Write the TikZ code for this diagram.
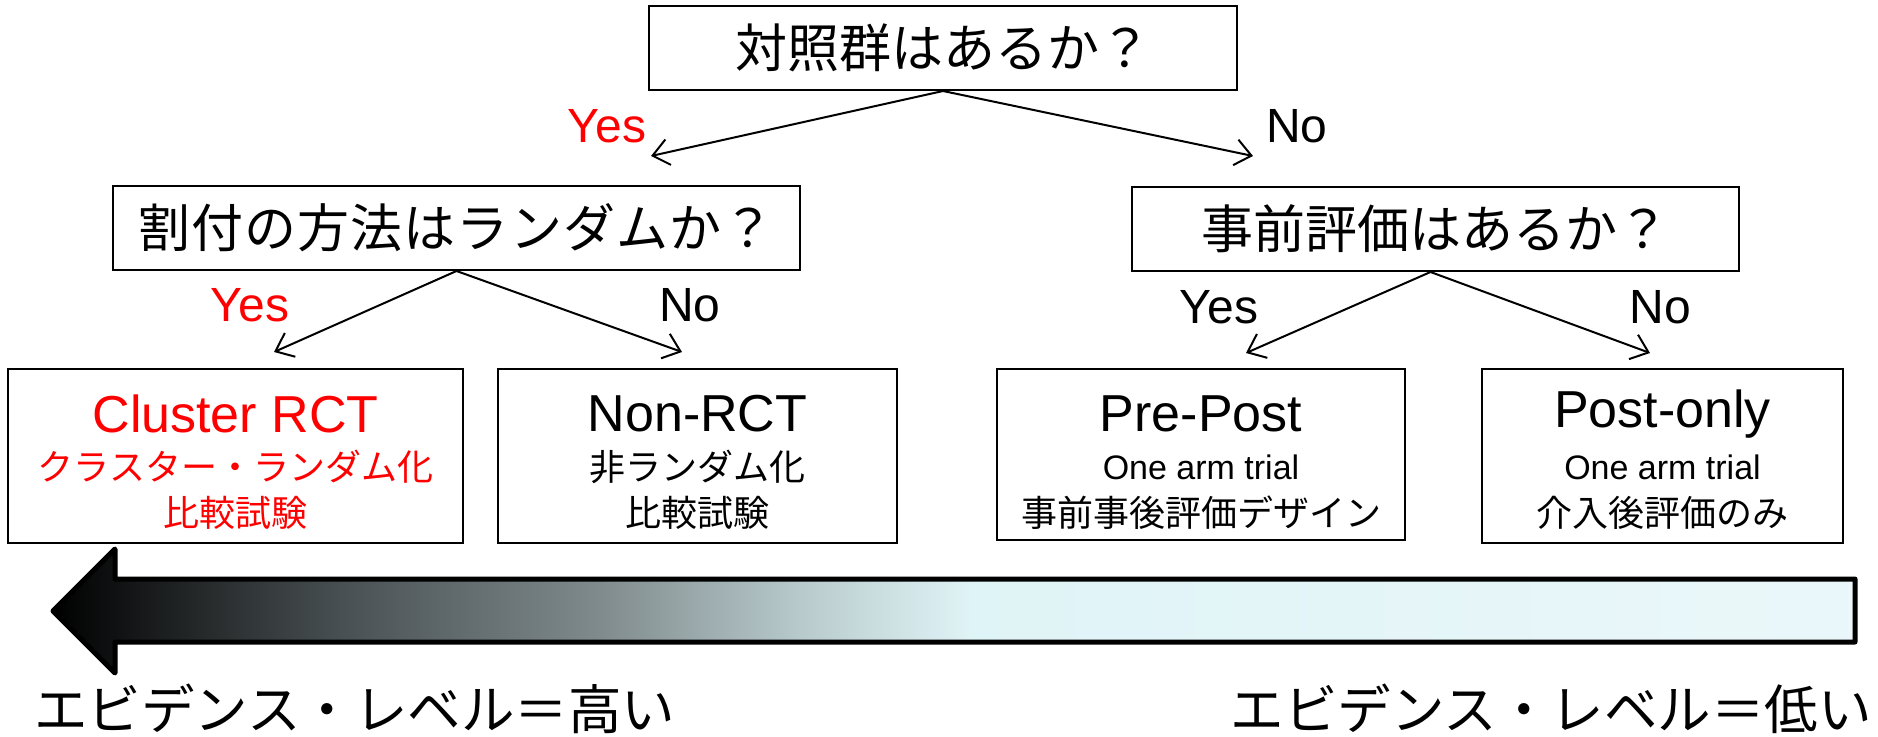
\documentclass[tikz,border=0pt]{standalone}
\usepackage{fontspec}
\setmainfont{Liberation Sans}
\newfontfamily\jp{Noto Sans CJK JP}
\usetikzlibrary{arrows.meta}
\definecolor{g1}{rgb}{0.29,0.32,0.33}
\definecolor{g2}{rgb}{0.50,0.545,0.553}
\definecolor{g3}{rgb}{0.72,0.79,0.80}
\definecolor{g4}{rgb}{0.875,0.955,0.965}
\definecolor{g5}{rgb}{0.92,0.97,0.98}
\pgfdeclarehorizontalshading{evid}{100bp}{color(0bp)=(black); color(25bp)=(black); color(33.2bp)=(g1); color(40.2bp)=(g2); color(45.7bp)=(g3); color(50.4bp)=(g4); color(75bp)=(g5); color(100bp)=(g5)}
\tikzset{
  qbox/.style={draw, line width=2pt, inner sep=0pt, font=\jp\fontsize{52}{60}\selectfont},
  rbox/.style={draw, line width=2pt, inner sep=0pt},
  conn/.style={line width=2pt, -{Straight Barb[length=16pt,width=26pt]}},
  yn/.style={font=\fontsize{48}{56}\selectfont},
  ttl/.style={font=\fontsize{52}{60}\selectfont},
  subl/.style={font=\fontsize{34}{40}\selectfont},
  subjp/.style={font=\jp\fontsize{36}{42}\selectfont},
  lvl/.style={font=\jp\fontsize{53.5}{60}\selectfont, inner sep=0pt},
}
\begin{document}
\begin{tikzpicture}[x=1pt,y=-1pt]
\useasboundingbox (0,0) rectangle (1878,736);
% question boxes
\node[qbox, minimum width=588pt, minimum height=84pt] (top) at (943,48) {対照群はあるか？};
\node[qbox, minimum width=687pt, minimum height=84pt] (lm) at (456.5,228) {\addfontfeature{LetterSpace=2}割付の方法はランダムか？};
\node[qbox, minimum width=607pt, minimum height=84pt] (rm) at (1435.5,229) {事前評価はあるか？};
% result boxes
\node[rbox, minimum width=455pt, minimum height=174pt] (b1) at (235.5,456) {};
\node[rbox, minimum width=399pt, minimum height=174pt] (b2) at (697.5,456) {};
\node[rbox, minimum width=408pt, minimum height=171pt] (b3) at (1201,454.5) {};
\node[rbox, minimum width=361pt, minimum height=174pt] (b4) at (1662.5,456) {};
% arrow end points
\coordinate (tY) at (651,156);
\coordinate (tN) at (1253,156);
\coordinate (lY) at (274,352);
\coordinate (lN) at (682,352);
\coordinate (rY) at (1246,353);
\coordinate (rN) at (1650,353);
\draw[conn] (top.south) -- (tY);
\draw[conn] (top.south) -- (tN);
\draw[conn] (lm.south) -- (lY);
\draw[conn] (lm.south) -- (lN);
\draw[conn] ([xshift=-5pt]rm.south) -- (rY);
\draw[conn] ([xshift=-5pt]rm.south) -- (rN);
% yes/no labels
\node[yn, text=red] (ltY) at (607,126) {Yes};
\node[yn] (ltN) at (1297,126) {No};
\node[yn, text=red] (llY) at (250,305) {Yes};
\node[yn] (llN) at (690,305) {No};
\node[yn] (lrY) at (1219,307) {Yes};
\node[yn] (lrN) at (1660,307) {No};
% box texts
\node[ttl, text=red] (t1a) at (235.5,414) {Cluster RCT};
\node[subjp, text=red] (t1b) at (235.5,467) {クラスター・ランダム化};
\node[subjp, text=red] (t1c) at (235.5,513) {比較試験};
\node[ttl] (t2a) at (697.5,414) {Non-RCT};
\node[subjp] (t2b) at (697.5,467) {非ランダム化};
\node[subjp] (t2c) at (697.5,513) {比較試験};
\node[ttl] (t3a) at (1201,414) {Pre-Post};
\node[subl] (t3b) at (1201,467) {One arm trial};
\node[subjp] (t3c) at (1201,513) {事前事後評価デザイン};
\node[ttl] (t4a) at (1662.5,414) {Post-only};
\node[subl] (t4b) at (1662.5,467) {One arm trial};
\node[subjp] (t4c) at (1662.5,513) {介入後評価のみ};
% evidence arrow
\draw[line width=5pt, line join=round, shading=evid]
  (53,611) -- (115,549) -- (115,579) -- (1855,579) -- (1855,642) -- (115,642) -- (115,673) -- cycle;
\node[lvl, anchor=base west] (hi) at (34,729) {エビデンス・レベル＝高い};
\node[lvl, anchor=base east] (lo) at (1872,729) {エビデンス・レベル＝低い};
\end{tikzpicture}
\end{document}
